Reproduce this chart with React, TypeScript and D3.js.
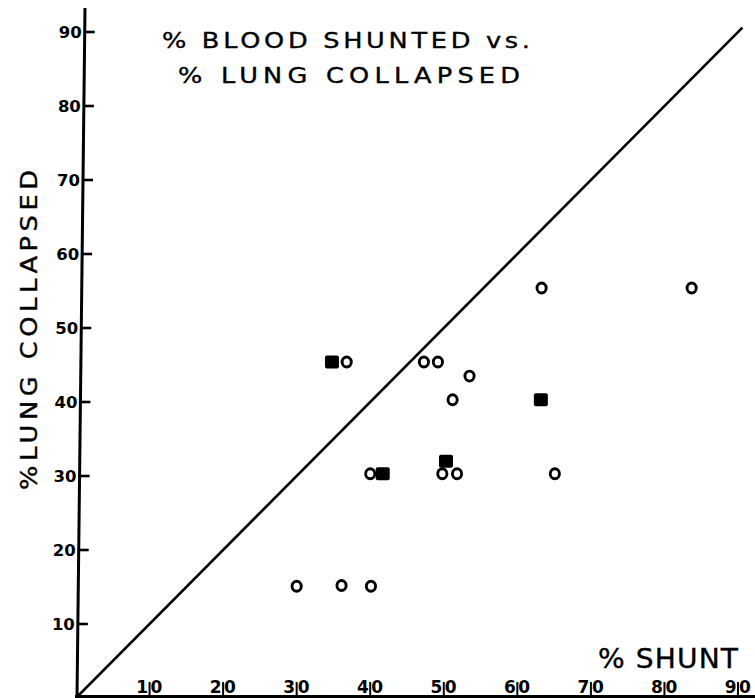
import React from "react";
import * as d3 from "d3";

const W = 755;
const H = 698;

const xTicks = [10, 20, 30, 40, 50, 60, 70, 80, 90];
const yTicks = [10, 20, 30, 40, 50, 60, 70, 80, 90];

// open circles: [% shunt, % lung collapsed]
const openX = [30, 36.1, 40.1, 40, 49.8, 51.8, 65.1, 51.2, 53.5, 47.3, 49.2, 36.8, 63.3, 83.7];
const openY = [15.1, 15.2, 15.1, 30.3, 30.3, 30.3, 30.3, 40.3, 43.5, 45.4, 45.4, 45.4, 55.4, 55.4];

// filled squares
const filledX = [34.8, 41.7, 50.3, 63.2];
const filledY = [45.4, 30.3, 32.0, 40.3];

const titleLines = ["% BLOOD SHUNTED vs.", "% LUNG COLLAPSED"];
const xLabel = "% SHUNT";
const yLabel = "%LUNG COLLAPSED";

const identityLine = [0, 90.6];

export default function App() {
  const x = d3.scaleLinear().domain([0, 90]).range([76, 738]);
  const y = d3.scaleLinear().domain([0, 90]).range([698, 32]);
  // the hand-drawn y axis leans slightly
  const axisX = (py: number) => 77 + (698 - py) * (8 / 690);

  const diag = d3.line<number>().x((v) => x(v)).y((v) => y(v))(identityLine) as string;

  const open = openX.map((v, i) => [v, openY[i]]);
  const filled = filledX.map((v, i) => [v, filledY[i]]);

  const font = "'DejaVu Sans', sans-serif";
  const sx = 1.22;

  return (
    <svg
      width={W}
      height={H}
      style={{ position: "absolute", left: 0, top: 0, background: "#fff" }}
      fontFamily={font}
    >
      {/* y axis */}
      <line x1={axisX(698)} y1={698} x2={axisX(8)} y2={8} stroke="#000" strokeWidth={3} />
      {yTicks.map((t) => {
        const py = y(t);
        const ax = axisX(py);
        return (
          <g key={"yt" + t}>
            <line x1={ax} x2={ax + 10} y1={py} y2={py} stroke="#000" strokeWidth={2.6} />
            <text x={ax - 3} y={py + 6} textAnchor="end" fontSize={16.5} fontWeight="bold">
              {t}
            </text>
          </g>
        );
      })}

      {/* x axis */}
      <line x1={axisX(698) - 2} x2={W} y1={696.5} y2={696.5} stroke="#000" strokeWidth={3} />
      {xTicks.map((t) => {
        const px = x(t);
        const s = String(t);
        return (
          <g key={"xt" + t}>
            <line x1={px} x2={px} y1={697} y2={682} stroke="#000" strokeWidth={2} />
            <text x={px - 1.5} y={693} textAnchor="end" fontSize={17} fontWeight="bold">
              {s.slice(0, 1)}
            </text>
            <text x={px + 1} y={693} textAnchor="start" fontSize={17} fontWeight="bold">
              {s.slice(1)}
            </text>
          </g>
        );
      })}

      {/* identity line */}
      <path d={diag} fill="none" stroke="#000" strokeWidth={2.6} />

      {/* open circles */}
      {open.map((d, i) => (
        <ellipse
          key={"o" + i}
          cx={x(d[0])}
          cy={y(d[1])}
          rx={4.6}
          ry={5}
          fill="#fff"
          stroke="#000"
          strokeWidth={2.9}
        />
      ))}

      {/* filled squares */}
      {filled.map((d, i) => (
        <rect
          key={"f" + i}
          x={x(d[0]) - 7}
          y={y(d[1]) - 6.5}
          width={14}
          height={13}
          rx={2}
          fill="#000"
        />
      ))}

      {/* title */}
      <g stroke="#000" strokeWidth={0.35}>
        <text
          transform={`translate(162,48) scale(${sx},1)`}
          fontSize={21}
          textLength={368 / sx}
          lengthAdjust="spacing"
        >
          {titleLines[0]}
        </text>
        <text
          transform={`translate(178,83) scale(${sx},1)`}
          fontSize={21}
          textLength={342 / sx}
          lengthAdjust="spacing"
        >
          {titleLines[1]}
        </text>

        {/* x label */}
        <text
          transform={`translate(598,668) scale(1.08,1)`}
          fontSize={26}
          textLength={140 / 1.08}
          lengthAdjust="spacing"
        >
          {xLabel}
        </text>

        {/* y label */}
        <text
          transform={`translate(37,490) rotate(-90) scale(1.12,1)`}
          fontSize={23}
          textLength={320 / 1.12}
          lengthAdjust="spacing"
        >
          {yLabel}
        </text>
      </g>
    </svg>
  );
}
